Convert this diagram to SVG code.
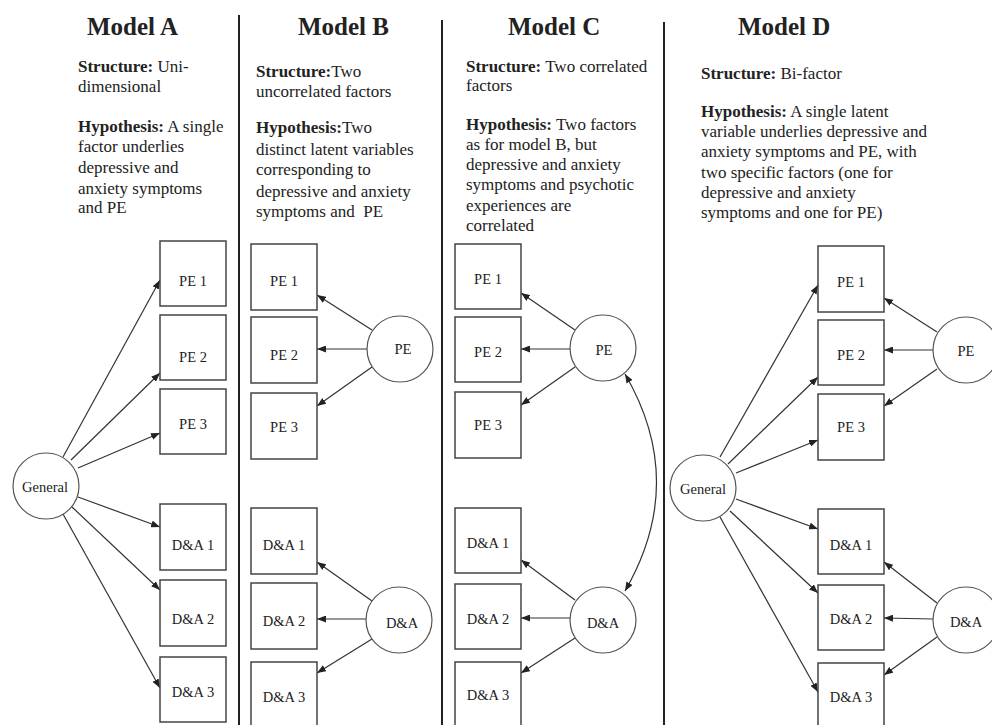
<svg xmlns="http://www.w3.org/2000/svg" width="992" height="725" viewBox="0 0 992 725">
<defs>
<marker id="ah" markerUnits="userSpaceOnUse" markerWidth="9" markerHeight="7" refX="9" refY="3.5" orient="auto-start-reverse">
<path d="M0,0 L9,3.5 L0,7 z" fill="#222"/>
</marker>
</defs>
<style>
.t{font-family:"Liberation Serif","Times New Roman",serif;fill:#222}
.title{font-size:25px;font-weight:bold}
.body{font-size:17px}
.b{font-weight:bold}
.lbl{font-family:"Liberation Serif","Times New Roman",serif;font-size:14.5px;fill:#222;text-anchor:middle}
.box{fill:#fff;stroke:#444;stroke-width:1.5}
.circ{fill:#fff;stroke:#555;stroke-width:1.2}
.div{stroke:#222;stroke-width:2}
.con line,.con path{stroke:#333;stroke-width:1.2;fill:none;marker-end:url(#ah)}
</style>
<rect width="992" height="725" fill="#fff"/>

<g id="dividers">
<line class="div" x1="239" y1="15" x2="239" y2="725"/>
<line class="div" x1="442" y1="20" x2="442" y2="725"/>
<line class="div" x1="664" y1="22" x2="664" y2="725"/>
</g>

<g id="textA" class="t">
<text class="title" x="87" y="35">Model A</text>
<text class="body" x="78"><tspan x="78" y="72"><tspan class="b">Structure:</tspan> Uni-</tspan><tspan x="78" y="92">dimensional</tspan><tspan x="78" y="132"><tspan class="b">Hypothesis:</tspan> A single</tspan><tspan x="78" y="152">factor underlies</tspan><tspan x="78" y="173">depressive and</tspan><tspan x="78" y="194">anxiety symptoms</tspan><tspan x="78" y="213">and PE</tspan></text>
</g>
<g id="textB" class="t">
<text class="title" x="298" y="35">Model B</text>
<text class="body" x="256"><tspan x="256" y="77"><tspan class="b">Structure:</tspan>Two</tspan><tspan x="256" y="97">uncorrelated factors</tspan><tspan x="256" y="133"><tspan class="b">Hypothesis:</tspan>Two</tspan><tspan x="256" y="155">distinct latent variables</tspan><tspan x="256" y="175">corresponding to</tspan><tspan x="256" y="197">depressive and anxiety</tspan><tspan x="256" y="217" style="white-space:pre">symptoms and  PE</tspan></text>
</g>
<g id="textC" class="t">
<text class="title" x="508" y="35">Model C</text>
<text class="body" x="466"><tspan x="466" y="72"><tspan class="b">Structure:</tspan> Two correlated</tspan><tspan x="466" y="91">factors</tspan><tspan x="466" y="130"><tspan class="b">Hypothesis:</tspan> Two factors</tspan><tspan x="466" y="149.5">as for model B, but</tspan><tspan x="466" y="170">depressive and anxiety</tspan><tspan x="466" y="190">symptoms and psychotic</tspan><tspan x="466" y="211">experiences are</tspan><tspan x="466" y="230.5">correlated</tspan></text>
</g>
<g id="textD" class="t">
<text class="title" x="738" y="35">Model D</text>
<text class="body" x="701"><tspan x="701" y="79"><tspan class="b">Structure:</tspan> Bi-factor</tspan><tspan x="701" y="117"><tspan class="b">Hypothesis:</tspan> A single latent</tspan><tspan x="701" y="137">variable underlies depressive and</tspan><tspan x="701" y="157">anxiety symptoms and PE, with</tspan><tspan x="701" y="178">two specific factors (one for</tspan><tspan x="701" y="198">depressive and anxiety</tspan><tspan x="701" y="218">symptoms and one for PE)</tspan></text>
</g>

<g id="connectors" class="con">
<line x1="63" y1="457" x2="160" y2="280"/>
<line x1="71" y1="460" x2="160" y2="373"/>
<line x1="78" y1="468" x2="160" y2="433"/>
<line x1="78" y1="497" x2="160" y2="527"/>
<line x1="72" y1="507" x2="160" y2="590"/>
<line x1="63" y1="514" x2="160" y2="688"/>

<line x1="372" y1="330" x2="317" y2="295"/>
<line x1="367" y1="349" x2="317" y2="349"/>
<line x1="372" y1="367" x2="317" y2="406"/>
<line x1="372" y1="601" x2="317" y2="562"/>
<line x1="366" y1="619" x2="317" y2="619"/>
<line x1="372" y1="639" x2="317" y2="673"/>

<line x1="575" y1="330" x2="521" y2="293"/>
<line x1="570" y1="349" x2="521" y2="349"/>
<line x1="575" y1="367" x2="521" y2="405"/>
<line x1="575" y1="600" x2="521" y2="560"/>
<line x1="570" y1="618" x2="521" y2="618"/>
<line x1="575" y1="638" x2="521" y2="673"/>
<path d="M625,374 Q688,482 625,591" style="marker-start:url(#ah)"/>

<line x1="720" y1="457" x2="818" y2="285"/>
<line x1="728" y1="464" x2="818" y2="377"/>
<line x1="736" y1="473" x2="818" y2="440"/>
<line x1="736" y1="499" x2="818" y2="529"/>
<line x1="730" y1="511" x2="818" y2="593"/>
<line x1="720" y1="517" x2="818" y2="692"/>
<line x1="937" y1="332" x2="884" y2="298"/>
<line x1="933" y1="350" x2="884" y2="350"/>
<line x1="937" y1="369" x2="884" y2="406"/>
<line x1="937" y1="603" x2="884" y2="562"/>
<line x1="933" y1="619" x2="884" y2="618"/>
<line x1="937" y1="637" x2="884" y2="675"/>
</g>

<g id="A_PE1"><rect class="box" x="160" y="241" width="66" height="65"/><text class="lbl" x="193" y="286">PE 1</text></g>
<g id="A_PE2"><rect class="box" x="160" y="315" width="66" height="65"/><text class="lbl" x="193" y="362">PE 2</text></g>
<g id="A_PE3"><rect class="box" x="160" y="389" width="66" height="65"/><text class="lbl" x="193" y="429">PE 3</text></g>
<g id="A_DA1"><rect class="box" x="160" y="504" width="66" height="66"/><text class="lbl" x="193" y="550">D&amp;A 1</text></g>
<g id="A_DA2"><rect class="box" x="160" y="580" width="66" height="66"/><text class="lbl" x="193" y="624">D&amp;A 2</text></g>
<g id="A_DA3"><rect class="box" x="160" y="657" width="66" height="65"/><text class="lbl" x="193" y="697">D&amp;A 3</text></g>
<g id="A_General"><circle class="circ" cx="46" cy="486" r="33"/><text class="lbl" x="45" y="492">General</text></g>

<g id="B_PE1"><rect class="box" x="251" y="244" width="66" height="66"/><text class="lbl" x="284" y="286">PE 1</text></g>
<g id="B_PE2"><rect class="box" x="251" y="317" width="66" height="66"/><text class="lbl" x="284" y="360">PE 2</text></g>
<g id="B_PE3"><rect class="box" x="251" y="393" width="66" height="66"/><text class="lbl" x="284" y="432">PE 3</text></g>
<g id="B_DA1"><rect class="box" x="251" y="508" width="66" height="66"/><text class="lbl" x="284" y="550">D&amp;A 1</text></g>
<g id="B_DA2"><rect class="box" x="251" y="583" width="66" height="66"/><text class="lbl" x="284" y="626">D&amp;A 2</text></g>
<g id="B_DA3"><rect class="box" x="251" y="662" width="66" height="70"/><text class="lbl" x="284" y="702">D&amp;A 3</text></g>
<g id="B_PE"><circle class="circ" cx="400" cy="349" r="33"/><text class="lbl" x="403" y="354">PE</text></g>
<g id="B_DA"><circle class="circ" cx="399" cy="620" r="33"/><text class="lbl" x="402" y="628">D&amp;A</text></g>

<g id="C_PE1"><rect class="box" x="455" y="244" width="66" height="65"/><text class="lbl" x="488" y="284">PE 1</text></g>
<g id="C_PE2"><rect class="box" x="455" y="317" width="66" height="65"/><text class="lbl" x="488" y="357">PE 2</text></g>
<g id="C_PE3"><rect class="box" x="455" y="392" width="66" height="66"/><text class="lbl" x="488" y="430">PE 3</text></g>
<g id="C_DA1"><rect class="box" x="455" y="508" width="66" height="65"/><text class="lbl" x="488" y="548">D&amp;A 1</text></g>
<g id="C_DA2"><rect class="box" x="455" y="584" width="66" height="65"/><text class="lbl" x="488" y="624">D&amp;A 2</text></g>
<g id="C_DA3"><rect class="box" x="455" y="662" width="66" height="70"/><text class="lbl" x="488" y="700">D&amp;A 3</text></g>
<g id="C_PE"><circle class="circ" cx="603" cy="348" r="33"/><text class="lbl" x="604" y="355">PE</text></g>
<g id="C_DA"><circle class="circ" cx="603" cy="620" r="33"/><text class="lbl" x="603" y="628">D&amp;A</text></g>

<g id="D_PE1"><rect class="box" x="818" y="246" width="66" height="66"/><text class="lbl" x="851" y="287">PE 1</text></g>
<g id="D_PE2"><rect class="box" x="818" y="320" width="66" height="65"/><text class="lbl" x="851" y="360">PE 2</text></g>
<g id="D_PE3"><rect class="box" x="818" y="394" width="66" height="66"/><text class="lbl" x="851" y="432">PE 3</text></g>
<g id="D_DA1"><rect class="box" x="818" y="509" width="66" height="65"/><text class="lbl" x="851" y="550">D&amp;A 1</text></g>
<g id="D_DA2"><rect class="box" x="818" y="585" width="66" height="65"/><text class="lbl" x="851" y="624">D&amp;A 2</text></g>
<g id="D_DA3"><rect class="box" x="818" y="663" width="66" height="70"/><text class="lbl" x="851" y="702">D&amp;A 3</text></g>
<g id="D_General"><circle class="circ" cx="703" cy="488" r="33"/><text class="lbl" x="703" y="494">General</text></g>
<g id="D_PE"><circle class="circ" cx="966" cy="350" r="33"/><text class="lbl" x="966" y="356">PE</text></g>
<g id="D_DA"><circle class="circ" cx="966" cy="620" r="33"/><text class="lbl" x="966" y="627">D&amp;A</text></g>
</svg>
